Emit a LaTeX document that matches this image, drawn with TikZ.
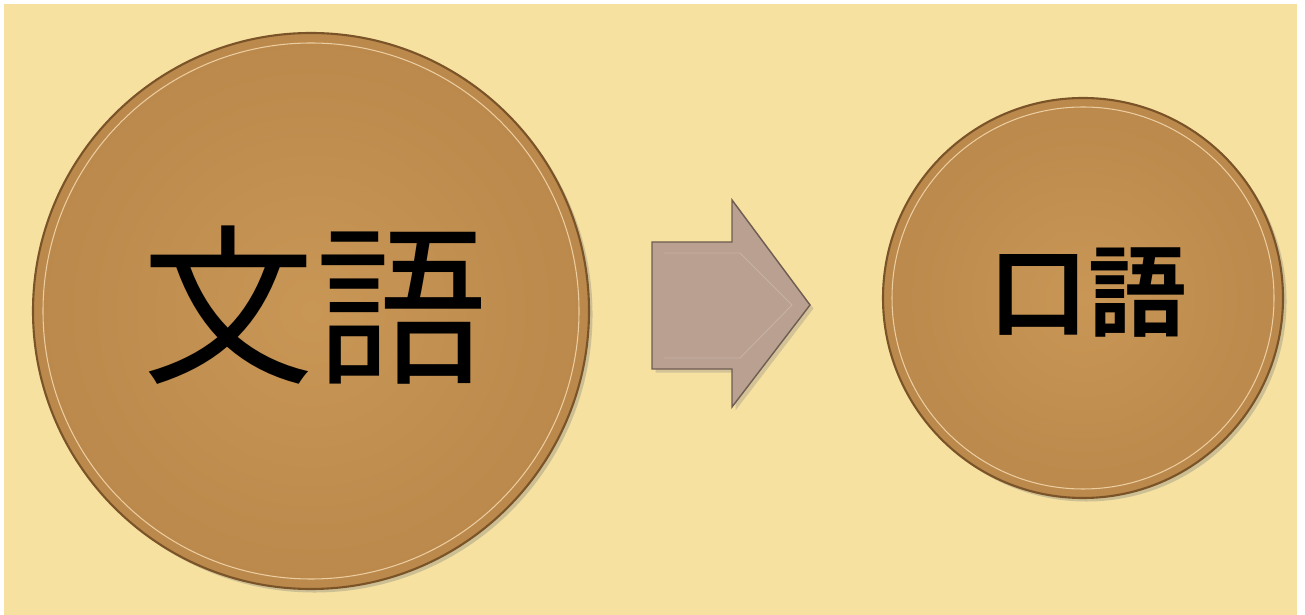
\documentclass[tikz,border=0pt]{standalone}
\usepackage{fontspec}
\newfontfamily\cjk{Noto Sans CJK JP}
\newfontfamily\cjkb{Noto Sans CJK JP Bold}
\usepackage{xcolor}
\usetikzlibrary{shadows}
\definecolor{paper}{HTML}{F7E1A0}
\definecolor{cork}{HTML}{C4904F}
\definecolor{corkdark}{HTML}{7A5428}
\definecolor{corklight}{HTML}{E2B878}
\definecolor{stone}{HTML}{B9A090}
\definecolor{stonedark}{HTML}{6F5C52}
\tikzset{
  disc/.style={circle,draw=corkdark,line width=1.2pt,inner color=cork!85!corklight,outer color=cork!95!black,
    drop shadow={shadow xshift=2pt,shadow yshift=-2pt,opacity=0.35},inner sep=0pt},
  rim/.style={draw=corklight!70!white,line width=0.6pt}
}
\begin{document}
\begin{tikzpicture}[x=0.02cm,y=0.02cm]
\useasboundingbox (0,0) rectangle (1305,615);
\fill[white] (0,0) rectangle (1305,615);
\fill[paper] (4,0) rectangle (1297,611);
\node[disc,minimum size=556*0.02cm] (big) at (311,304) {};
\draw[rim] (big.center) circle (268);
\node[disc,minimum size=400*0.02cm] (small) at (1083,317) {};
\draw[rim] (small.center) circle (191);
\draw[fill=stone,draw=stonedark,line width=0.8pt,drop shadow={shadow xshift=2pt,shadow yshift=-2pt,opacity=0.3}]
  (652,373) -- (732,373) -- (732,415) -- (810,310) -- (732,208) -- (732,246) -- (652,246) -- cycle;
\draw[stone!80!white,line width=0.5pt] (664,362) -- (740,362) -- (792,310) -- (740,257) -- (664,257);
\node[font=\cjk\fontsize{98}{98}\selectfont] (old) at (315,310) {文語};
\node[font=\cjkb\fontsize{56}{56}\selectfont] (new) at (1088,322) {口語};
\end{tikzpicture}
\end{document}
